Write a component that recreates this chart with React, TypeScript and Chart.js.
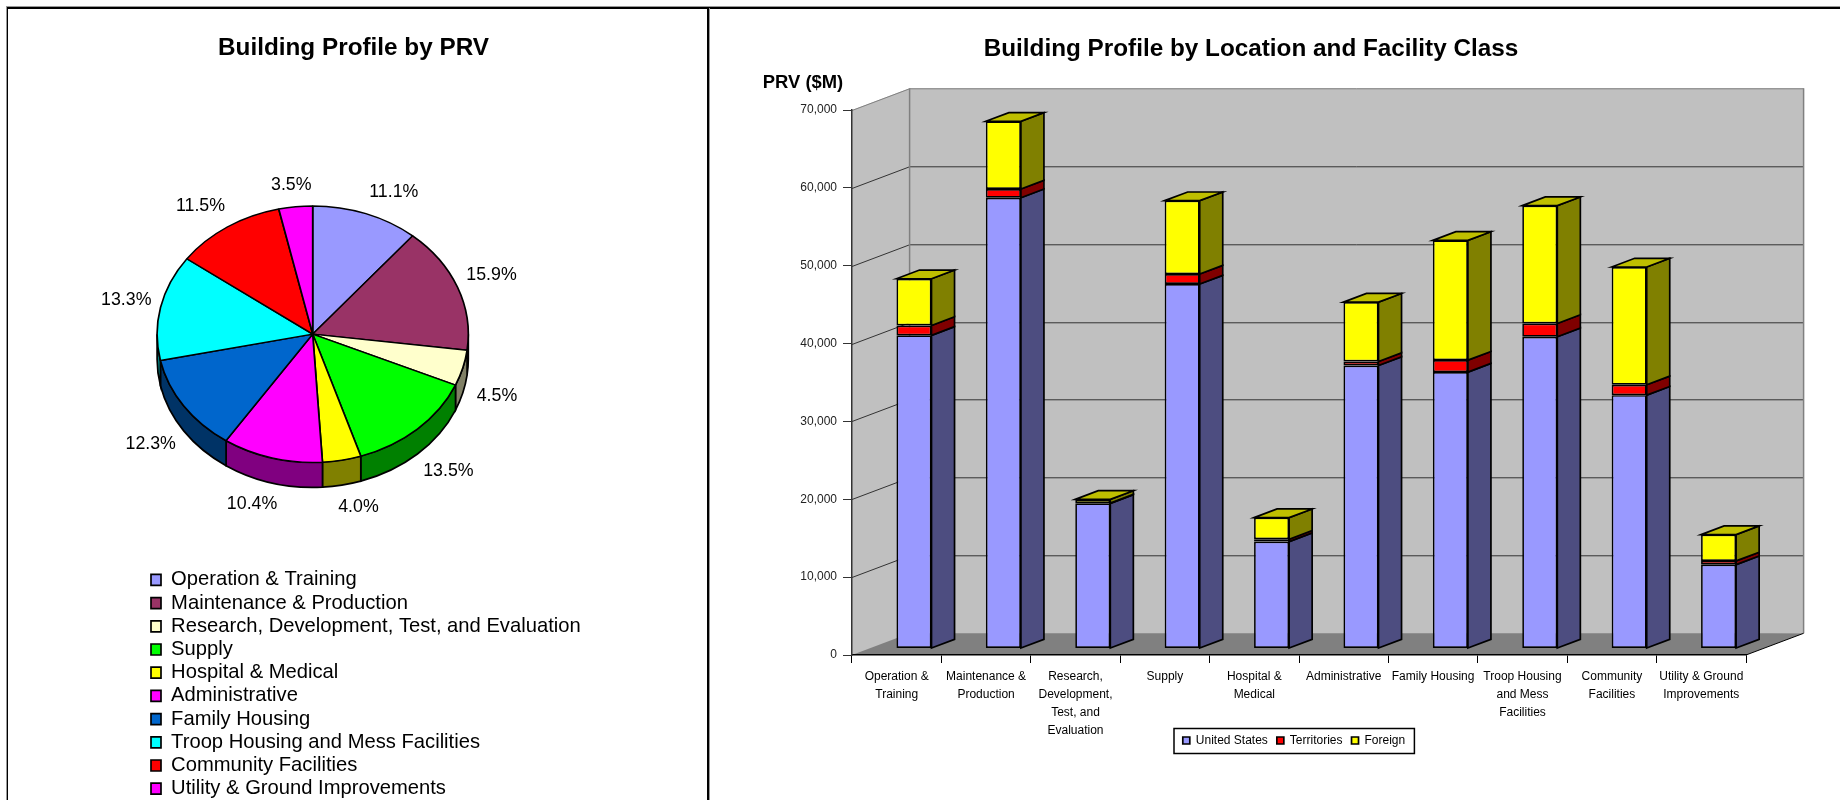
import React, { useEffect, useRef } from "react";
import { Chart, registerables } from "chart.js";

Chart.register(...registerables);
Chart.defaults.font.family = "'Liberation Sans', Arial, sans-serif";
Chart.defaults.color = "#000";

const pieTitle = "Building Profile by PRV";
const pieCategories = [
  "Operation & Training",
  "Maintenance & Production",
  "Research, Development, Test, and Evaluation",
  "Supply",
  "Hospital & Medical",
  "Administrative",
  "Family Housing",
  "Troop Housing and Mess Facilities",
  "Community Facilities",
  "Utility & Ground Improvements",
];
const pieValues = [11.1, 15.9, 4.5, 13.5, 4.0, 10.4, 12.3, 13.3, 11.5, 3.5];
const pieColors = ["#9999FF", "#993366", "#FFFFCC", "#00FF00", "#FFFF00", "#FF00FF", "#0066CC", "#00FFFF", "#FF0000", "#FF00FF"];

const barTitle = "Building Profile by Location and Facility Class";
const yAxisTitle = "PRV ($M)";
const barCategories = [
  ["Operation &", "Training"],
  ["Maintenance &", "Production"],
  ["Research,", "Development,", "Test, and", "Evaluation"],
  ["Supply"],
  ["Hospital &", "Medical"],
  ["Administrative"],
  ["Family Housing"],
  ["Troop Housing", "and Mess", "Facilities"],
  ["Community", "Facilities"],
  ["Utility & Ground", "Improvements"],
];
const unitedStates = [40220, 57900, 18640, 46810, 13730, 36350, 35500, 40040, 32540, 10770];
const territories = [1270, 1120, 50, 1280, 310, 510, 1540, 1710, 1330, 480];
const foreign = [6000, 8690, 460, 9430, 2770, 7630, 15380, 15130, 15130, 3380];
const seriesColors = ["#9999FF", "#FF0000", "#FFFF00"];

const LEFT_W = 707;
const RIGHT_X = 708;
const RIGHT_W = 1132;
const H = 800;
const TITLE_SIZE = 24.3;

function shade(hex: string, f: number) {
  const n = parseInt(hex.slice(1), 16);
  const r = Math.round(((n >> 16) & 255) * f);
  const g = Math.round(((n >> 8) & 255) * f);
  const b = Math.round((n & 255) * f);
  return `rgb(${r},${g},${b})`;
}

/* ---------- pie chart ---------- */
const PIE_RX = 155.6;
const PIE_TILT = 0.824;
const PIE_DEPTH = 25;

const piePlugin = {
  id: "pie3d",
  beforeDraw(chart: any) {
    const t = chart.titleBlock;
    t.left = 0;
    t.right = LEFT_W;
    t.top = 48.5 - TITLE_SIZE / 2;
    const l = chart.legend;
    l.left = 148;
    l.right = 700;
    l.top = 566.8;
    l.bottom = 900;
  },
  beforeDatasetsDraw(chart: any) {
    const ctx = chart.ctx;
    const arcs = chart.getDatasetMeta(0).data;
    const cx = arcs[0].x;
    const cy = arcs[0].y;
    const ry = PIE_RX * PIE_TILT;
    ctx.save();
    ctx.lineWidth = 1.7;
    ctx.strokeStyle = "#000";
    arcs.forEach((a: any, i: number) => {
      const s = Math.max(a.startAngle, 0);
      const e = Math.min(a.endAngle, Math.PI);
      if (e <= s) return;
      ctx.beginPath();
      ctx.ellipse(cx, cy, PIE_RX, ry, 0, s, e);
      ctx.ellipse(cx, cy + PIE_DEPTH, PIE_RX, ry, 0, e, s, true);
      ctx.closePath();
      ctx.fillStyle = shade(pieColors[i], 0.5);
      ctx.fill();
      ctx.stroke();
    });
    ctx.restore();
    ctx.save();
    ctx.translate(cx, cy);
    ctx.scale(1, PIE_TILT);
    ctx.translate(-cx, -cy);
  },
  afterDatasetsDraw(chart: any) {
    const ctx = chart.ctx;
    ctx.restore();
    const arcs = chart.getDatasetMeta(0).data;
    const cx = arcs[0].x;
    const cy = arcs[0].y;
    const p = 0.85;
    ctx.save();
    ctx.font = "17.8px 'Liberation Sans'";
    ctx.fillStyle = "#000";
    ctx.textAlign = "center";
    ctx.textBaseline = "middle";
    arcs.forEach((a: any, i: number) => {
      const mid = (a.startAngle + a.endAngle) / 2;
      const c = Math.cos(mid);
      const sn = Math.sin(mid);
      const x =
        cx +
        190 * Math.sign(c) * Math.pow(Math.abs(c), p) +
        (sn < 0 ? 8 * Math.pow(Math.abs(sn), 8) : 0);
      const y = cy + 8 + (sn > 0 ? 167 : 158) * Math.sign(sn) * Math.pow(Math.abs(sn), p);
      ctx.fillText(pieValues[i].toFixed(1) + "%", x, y);
    });
    ctx.restore();
  },
};

/* ---------- 3D stacked bars ---------- */
const DEPTH_X = 57.6;
const DEPTH_Y = 21.7;
const FRONT_GAP = 0.3;
const BAR_DEPTH = 0.4;

const wallsPlugin = {
  id: "walls3d",
  beforeDraw(chart: any) {
    const ctx = chart.ctx;
    const { left: L, right: R, top: T, bottom: B } = chart.chartArea;
    const t = chart.titleBlock;
    t.left = 0;
    t.right = 2 * (1251 - RIGHT_X);
    t.top = 49 - TITLE_SIZE / 2;
    const l = chart.legend;
    l.left = 1294 - RIGHT_X - 200;
    l.right = 1294 - RIGHT_X + 200;
    l.top = 725.5;
    l.bottom = 760;

    ctx.save();
    ctx.fillStyle = "#C0C0C0";
    ctx.beginPath();
    ctx.moveTo(L, T);
    ctx.lineTo(L + DEPTH_X, T - DEPTH_Y);
    ctx.lineTo(R + DEPTH_X, T - DEPTH_Y);
    ctx.lineTo(R + DEPTH_X, B - DEPTH_Y);
    ctx.lineTo(L, B);
    ctx.closePath();
    ctx.fill();

    ctx.fillStyle = "#808080";
    ctx.beginPath();
    ctx.moveTo(L, B);
    ctx.lineTo(L + DEPTH_X, B - DEPTH_Y);
    ctx.lineTo(R + DEPTH_X, B - DEPTH_Y);
    ctx.lineTo(R, B);
    ctx.closePath();
    ctx.fill();

    const yScale = chart.scales.y;
    ctx.lineWidth = 1;
    yScale.ticks.forEach((tk: any) => {
      if (tk.value === 0) return;
      const y = Math.round(yScale.getPixelForValue(tk.value)) + 0.5;
      ctx.strokeStyle = tk.value === yScale.max ? "#808080" : "#333";
      ctx.beginPath();
      ctx.moveTo(L, y);
      ctx.lineTo(L + DEPTH_X, y - DEPTH_Y);
      ctx.lineTo(R + DEPTH_X, y - DEPTH_Y);
      ctx.stroke();
    });

    ctx.strokeStyle = "#808080";
    ctx.lineWidth = 1.5;
    ctx.beginPath();
    ctx.moveTo(L + DEPTH_X, T - DEPTH_Y);
    ctx.lineTo(L + DEPTH_X, B - DEPTH_Y);
    ctx.moveTo(R + DEPTH_X, T - DEPTH_Y);
    ctx.lineTo(R + DEPTH_X, B - DEPTH_Y);
    ctx.stroke();

    ctx.strokeStyle = "#000";
    ctx.lineWidth = 1;
    ctx.beginPath();
    ctx.moveTo(R, B);
    ctx.lineTo(R + DEPTH_X, B - DEPTH_Y);
    ctx.stroke();
    ctx.restore();
  },
  beforeDatasetsDraw(chart: any) {
    const ctx = chart.ctx;
    ctx.save();
    ctx.translate(DEPTH_X * FRONT_GAP, -DEPTH_Y * FRONT_GAP);
    const dx = DEPTH_X * BAR_DEPTH;
    const dy = DEPTH_Y * BAR_DEPTH;
    ctx.lineWidth = 1.7;
    ctx.strokeStyle = "#000";
    ctx.lineJoin = "miter";
    const metas = [0, 1, 2].map((i) => chart.getDatasetMeta(i));
    metas.forEach((meta: any, d: number) => {
      meta.data.forEach((bar: any) => {
        const xr = bar.x + bar.width / 2;
        const top = bar.y;
        const base = bar.base;
        ctx.fillStyle = shade(seriesColors[d], 0.5);
        ctx.beginPath();
        ctx.moveTo(xr, base);
        ctx.lineTo(xr + dx, base - dy);
        ctx.lineTo(xr + dx, top - dy);
        ctx.lineTo(xr, top);
        ctx.closePath();
        ctx.fill();
        ctx.stroke();
      });
    });
    metas[2].data.forEach((bar: any) => {
      const xl = bar.x - bar.width / 2;
      const xr = bar.x + bar.width / 2;
      ctx.fillStyle = shade(seriesColors[2], 0.75);
      ctx.beginPath();
      ctx.moveTo(xl, bar.y);
      ctx.lineTo(xl + dx, bar.y - dy);
      ctx.lineTo(xr + dx, bar.y - dy);
      ctx.lineTo(xr, bar.y);
      ctx.closePath();
      ctx.fill();
      ctx.stroke();
    });
  },
  afterDatasetsDraw(chart: any) {
    chart.ctx.restore();
  },
  afterDraw(chart: any) {
    const ctx = chart.ctx;
    ctx.save();
    ctx.strokeStyle = "#000";
    ctx.lineWidth = 1.5;
    ctx.strokeRect(1174 - RIGHT_X, 728.5, 240.4, 25);
    ctx.font = "bold 18.4px 'Liberation Sans'";
    ctx.fillStyle = "#000";
    ctx.textAlign = "center";
    ctx.textBaseline = "middle";
    ctx.fillText(yAxisTitle, 803 - RIGHT_X, 83);
    ctx.restore();
  },
};

export default function App() {
  const pieRef = useRef<HTMLCanvasElement>(null);
  const barRef = useRef<HTMLCanvasElement>(null);

  useEffect(() => {
    const pie = new Chart(pieRef.current as any, {
      type: "pie",
      data: {
        labels: pieCategories,
        datasets: [
          {
            data: pieValues,
            backgroundColor: pieColors,
            borderColor: "#000",
            borderWidth: 1.7,
            clip: false,
          } as any,
        ],
      },
      options: {
        responsive: false,
        animation: false,
        radius: PIE_RX,
        layout: { padding: { top: 76, left: 0, right: LEFT_W - 2 * 312.7, bottom: H - 568 } },
        plugins: {
          title: {
            display: true,
            text: pieTitle,
            padding: 0,
            font: { size: TITLE_SIZE, weight: "bold", lineHeight: 1 },
          },
          legend: {
            display: true,
            position: "chartArea",
            align: "start",
            labels: {
              boxWidth: 10,
              boxHeight: 11,
              padding: 3,
              font: { size: 20.2 },
              color: "#000",
            },
          },
          tooltip: { enabled: false },
        },
      } as any,
      plugins: [piePlugin],
    });

    const bar = new Chart(barRef.current as any, {
      type: "bar",
      data: {
        labels: barCategories as any,
        datasets: [
          { label: "United States", data: unitedStates, backgroundColor: seriesColors[0] },
          { label: "Territories", data: territories, backgroundColor: seriesColors[1] },
          { label: "Foreign", data: foreign, backgroundColor: seriesColors[2] },
        ].map((d) => ({
          ...d,
          borderColor: "#000",
          borderWidth: 1.7,
          borderSkipped: false,
          barPercentage: 0.392,
          categoryPercentage: 1,
          clip: false,
        })) as any,
      },
      options: {
        responsive: false,
        animation: false,
        layout: { padding: { top: 110 - TITLE_SIZE, right: RIGHT_W - (1746 - RIGHT_X), left: 0, bottom: 0 } },
        scales: {
          x: {
            stacked: true,
            afterFit(s: any) {
              s.height = H - 655 - (s.chart.legend?.height || 0);
            },
            border: { color: "#000", width: 1.5 },
            grid: { drawOnChartArea: false, drawTicks: true, tickLength: 8, color: "#000", offset: true },
            ticks: {
              autoSkip: false,
              maxRotation: 0,
              padding: 5,
              font: { size: 12, lineHeight: 1.5 },
              color: "#000",
            },
          },
          y: {
            stacked: true,
            min: 0,
            max: 70000,
            afterFit(s: any) {
              s.width = 852 - RIGHT_X;
            },
            border: { color: "#333", width: 1.5 },
            grid: { drawOnChartArea: false, drawTicks: true, tickLength: 9, color: "#333" },
            ticks: {
              stepSize: 10000,
              padding: 6,
              font: { size: 12 },
              color: "#222",
              callback: (v: any) => Number(v).toLocaleString("en-US"),
            },
          },
        },
        plugins: {
          title: {
            display: true,
            text: barTitle,
            padding: 0,
            font: { size: TITLE_SIZE, weight: "bold", lineHeight: 1 },
          },
          legend: {
            display: true,
            position: "bottom",
            labels: {
              boxWidth: 7,
              boxHeight: 7,
              padding: 9,
              font: { size: 12 },
              color: "#000",
            },
          },
          tooltip: { enabled: false },
        },
      } as any,
      plugins: [wallsPlugin],
    });

    return () => {
      pie.destroy();
      bar.destroy();
    };
  }, []);

  return (
    <div style={{ position: "absolute", left: 0, top: 0, width: 1840, height: H, background: "#fff", overflow: "hidden" }}>
      <canvas ref={pieRef} width={LEFT_W} height={H} style={{ position: "absolute", left: 0, top: 0 }} />
      <canvas ref={barRef} width={RIGHT_W} height={H} style={{ position: "absolute", left: RIGHT_X, top: 0 }} />
      <div style={{ position: "absolute", left: 6, top: 6, width: 1834, height: 1, background: "#999" }} />
      <div style={{ position: "absolute", left: 7, top: 7, width: 1833, height: 1.5, background: "#000" }} />
      <div style={{ position: "absolute", left: 5.5, top: 6, width: 1, height: 794, background: "#999" }} />
      <div style={{ position: "absolute", left: 6.5, top: 7, width: 1.5, height: 793, background: "#000" }} />
      <div style={{ position: "absolute", left: 707, top: 7, width: 1.5, height: 793, background: "#000" }} />
      <div style={{ position: "absolute", left: 708.5, top: 8, width: 1, height: 792, background: "#999" }} />
    </div>
  );
}
